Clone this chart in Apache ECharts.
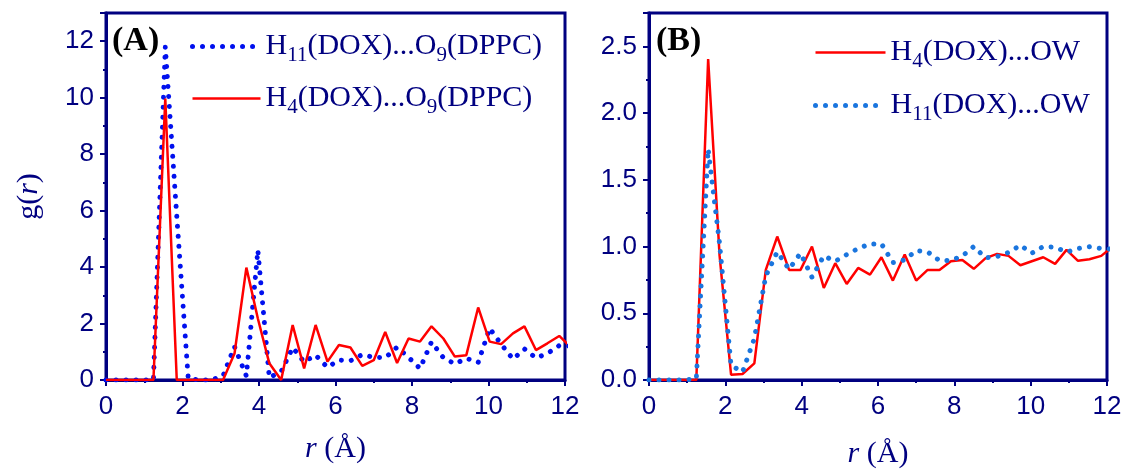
<!DOCTYPE html>
<html>
<head>
<meta charset="utf-8">
<script src="https://cdn.jsdelivr.net/npm/echarts@6/dist/echarts.min.js"></script>
<style>html,body{margin:0;padding:0;background:#fff;}#c{width:1128px;height:470px;}</style>
</head>
<body>
<div id="c"></div>
<script>
// r values (Å) of the sampled points
const rVals = [0, 0.33, 0.64, 0.94, 1.24, 1.55, 1.85, 2.15, 2.45, 2.76, 3.06, 3.36, 3.67, 3.97, 4.27, 4.58, 4.88, 5.18, 5.48, 5.79, 6.09, 6.39, 6.70, 7.00, 7.30, 7.61, 7.91, 8.21, 8.51, 8.82, 9.12, 9.42, 9.73, 10.03, 10.33, 10.64, 10.94, 11.24, 11.54, 11.85, 12.15];
// Panel A
const h11_O9 = [0, 0, 0, 0, 0, 11.8, 5.8, 0.05, 0, 0, 0.15, 1.18, 0.14, 4.6, 0.08, 0.3, 1.15, 0.64, 0.88, 0.45, 0.71, 0.68, 0.9, 0.8, 0.79, 1.16, 0.8, 0.41, 1.35, 0.79, 0.57, 0.77, 0.62, 1.83, 1.27, 0.74, 1.1, 0.78, 0.94, 1.22, 1.2];
const h4_O9 = [0, 0, 0, 0, 0, 9.97, 0, 0, 0, 0, 0, 0.94, 3.98, 2.18, 0.59, 0, 1.95, 0.41, 1.95, 0.65, 1.24, 1.15, 0.5, 0.7, 1.7, 0.6, 1.47, 1.36, 1.9, 1.47, 0.83, 0.88, 2.57, 1.36, 1.27, 1.65, 1.9, 1.06, 1.3, 1.56, 1.16];
// Panel B
const h4_OW = [0, 0, 0, 0, 0, 2.405, 0.93, 0.04, 0.045, 0.125, 0.825, 1.075, 0.825, 0.825, 1.0, 0.69, 0.875, 0.72, 0.84, 0.79, 0.92, 0.745, 0.94, 0.745, 0.825, 0.825, 0.89, 0.9, 0.833, 0.913, 0.945, 0.93, 0.86, 0.89, 0.92, 0.87, 0.975, 0.893, 0.905, 0.93, 1.0];
const h11_OW = [0, 0, 0, 0, 0.01, 1.73, 1.02, 0.11, 0.06, 0.31, 0.78, 0.96, 0.83, 0.95, 0.77, 0.93, 0.89, 0.94, 0.985, 1.02, 1.02, 0.88, 0.9, 0.97, 0.96, 0.895, 0.895, 0.93, 1.0, 0.915, 0.925, 0.955, 1.01, 0.95, 1.0, 0.995, 0.958, 0.985, 0.998, 0.985, 0.98];

const legendNames = {
  'H11A': '{n|H}{s|11}{n|(DOX)...O}{s|9}{n|(DPPC)}',
  'H4A': '{n|H}{s|4}{n|(DOX)...O}{s|9}{n|(DPPC)}',
  'H4B': '{n|H}{s|4}{n|(DOX)...OW}',
  'H11B': '{n|H}{s|11}{n|(DOX)...OW}'
};

const NAVY = '#000080';
const RED = '#ff0000';
const BLUE_A = '#0010ee';
const BLUE_B = '#1a75de';
const serif = 'Liberation Serif';
const sans = 'Liberation Sans';

function pairs(ys) { return rVals.map((r, i) => [r, ys[i]]); }

const richText = {
  n: { fontFamily: serif, fontSize: 30, color: NAVY, lineHeight: 30 },
  s: { fontFamily: serif, fontSize: 21, color: NAVY, lineHeight: 12, padding: [18, 0, 0, 0] }
};
const nameRich = {
  n: { fontFamily: serif, fontSize: 30, color: NAVY },
  i: { fontFamily: serif, fontSize: 30, color: NAVY, fontStyle: 'italic' }
};

function xAxis(gridIndex, gap) {
  return {
    gridIndex, type: 'value', min: 0, max: 12, interval: 2,
    name: '{i|r}{n| (Å)}', nameLocation: 'middle', nameGap: gap,
    nameTextStyle: { rich: nameRich },
    axisLine: { show: true, lineStyle: { color: NAVY, width: 3 } },
    axisTick: { show: true, length: 6, lineStyle: { color: NAVY, width: 2 } },
    minorTick: { show: true, splitNumber: 2, length: 3, lineStyle: { color: NAVY, width: 2 } },
    splitLine: { show: false },
    axisLabel: { color: NAVY, fontFamily: sans, fontSize: 26, margin: 14 }
  };
}
function yAxis(gridIndex, max, interval, fmt, extra) {
  return Object.assign({
    gridIndex, type: 'value', min: 0, max, interval,
    axisLine: { show: true, lineStyle: { color: NAVY, width: 3 } },
    axisTick: { show: true, length: 6, lineStyle: { color: NAVY, width: 2 } },
    minorTick: { show: true, splitNumber: 2, length: 3, lineStyle: { color: NAVY, width: 2 } },
    splitLine: { show: false },
    axisLabel: { color: NAVY, fontFamily: sans, fontSize: 26, margin: 12, showMaxLabel: false, formatter: fmt }
  }, extra || {});
}

const chart = echarts.init(document.getElementById('c'), null, { renderer: 'canvas' });
chart.setOption({
  animation: false,
  backgroundColor: '#fff',
  title: [
    { text: '(A)', left: 112, top: 24, padding: 0, textStyle: { fontFamily: serif, fontWeight: 'bold', fontSize: 34, color: '#000' } },
    { text: '(B)', left: 656, top: 24, padding: 0, textStyle: { fontFamily: serif, fontWeight: 'bold', fontSize: 34, color: '#000' } }
  ],
  grid: [
    { left: 106, top: 13, width: 459, height: 367, show: true, borderColor: NAVY, borderWidth: 3, backgroundColor: 'transparent', outerBoundsMode: 'none', containLabel: false },
    { left: 649, top: 13, width: 458, height: 367, show: true, borderColor: NAVY, borderWidth: 3, backgroundColor: 'transparent', outerBoundsMode: 'none', containLabel: false }
  ],
  xAxis: [xAxis(0, 54), xAxis(1, 59)],
  yAxis: [
    yAxis(0, 13, 2, v => String(v), { name: '{n|g(}{i|r}{n|)}', nameLocation: 'middle', nameGap: 62, nameRotate: 90, nameTextStyle: { rich: nameRich } }),
    yAxis(1, 2.75, 0.5, v => v.toFixed(1))
  ],
  legend: [
    {
      orient: 'vertical', left: 190, top: 27, padding: 0, itemWidth: 68, itemHeight: 30, itemGap: 13,
      selectedMode: false,
      itemStyle: { opacity: 0 },
      formatter: n => legendNames[n],
      textStyle: { rich: richText },
      data: [
        { name: 'H11A', lineStyle: { color: BLUE_A, width: 5, type: [0.01, 10], cap: 'round' } },
        { name: 'H4A', lineStyle: { color: RED, width: 2.5, type: 'solid' } }
      ]
    },
    {
      orient: 'vertical', left: 813, top: 33, padding: 0, itemWidth: 70, itemHeight: 30, itemGap: 14,
      selectedMode: false,
      itemStyle: { opacity: 0 },
      formatter: n => legendNames[n],
      textStyle: { rich: richText },
      data: [
        { name: 'H4B', lineStyle: { color: RED, width: 2.5, type: 'solid' } },
        { name: 'H11B', lineStyle: { color: BLUE_B, width: 5, type: [0.01, 10], cap: 'round' } }
      ]
    }
  ],
  series: [
    { name: 'H11A', type: 'line', xAxisIndex: 0, yAxisIndex: 0, symbol: 'none', data: pairs(h11_O9),
      lineStyle: { color: BLUE_A, width: 5, type: [0.01, 10], cap: 'round' }, itemStyle: { color: BLUE_A } },
    { name: 'H4A', type: 'line', xAxisIndex: 0, yAxisIndex: 0, symbol: 'none', data: pairs(h4_O9),
      lineStyle: { color: RED, width: 2.5 }, itemStyle: { color: RED } },
    { name: 'H4B', type: 'line', xAxisIndex: 1, yAxisIndex: 1, symbol: 'none', data: pairs(h4_OW),
      lineStyle: { color: RED, width: 2.5 }, itemStyle: { color: RED } },
    { name: 'H11B', type: 'line', xAxisIndex: 1, yAxisIndex: 1, symbol: 'none', data: pairs(h11_OW),
      lineStyle: { color: BLUE_B, width: 5, type: [0.01, 10], cap: 'round' }, itemStyle: { color: BLUE_B } }
  ]
});
</script>
</body>
</html>
